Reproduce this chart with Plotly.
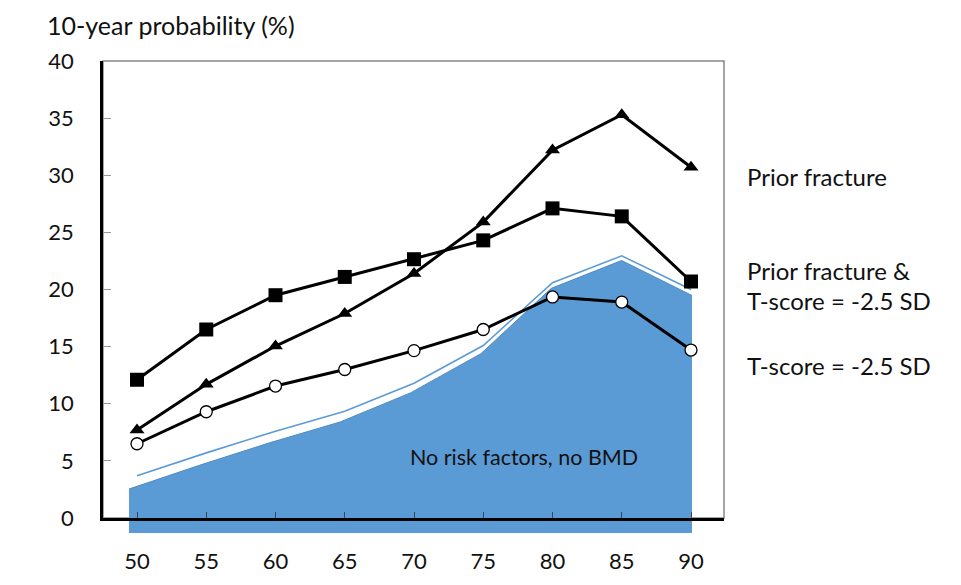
import plotly.graph_objects as go

ages = [50, 55, 60, 65, 70, 75, 80, 85, 90]
age_labels = ["50", "55", "60", "65", "70", "75", "80", "85", "90"]
prior_fracture = [7.7, 11.7, 15.05, 17.9, 21.4, 25.9, 32.2, 35.3, 30.7]
prior_fracture_tscore = [12.1, 16.5, 19.5, 21.1, 22.65, 24.3, 27.1, 26.4, 20.7]
tscore = [6.5, 9.3, 11.55, 13.0, 14.65, 16.5, 19.35, 18.9, 14.7]
no_risk = [3.7, 5.7, 7.6, 9.35, 11.8, 15.1, 20.6, 22.95, 20.0]

FONT = "Lato, 'Open Sans', sans-serif"
BLUE = "#5B9BD5"

fig = go.Figure()

# shaded area (drawn in a slightly offset "perspective" subplot)
fig.add_trace(go.Scatter(x=ages, y=no_risk, xaxis="x", yaxis="y", mode="lines",
                         fill="tozeroy", fillcolor=BLUE,
                         line=dict(color="#4E8AC2", width=1), hoverinfo="skip",
                         showlegend=False))
# thin outline of the area
fig.add_trace(go.Scatter(x=ages, y=no_risk, xaxis="x2", yaxis="y2", mode="lines",
                         line=dict(color=BLUE, width=1.6), showlegend=False))

fig.add_trace(go.Scatter(x=ages, y=tscore, xaxis="x2", yaxis="y2", mode="lines+markers",
                         line=dict(color="black", width=3),
                         marker=dict(symbol="circle", size=12, color="white",
                                     line=dict(color="black", width=1.3)),
                         showlegend=False))
fig.add_trace(go.Scatter(x=ages, y=prior_fracture, xaxis="x2", yaxis="y2", mode="lines+markers",
                         line=dict(color="black", width=3),
                         marker=dict(symbol="triangle-up", size=13, color="black"),
                         showlegend=False))
fig.add_trace(go.Scatter(x=ages, y=prior_fracture_tscore, xaxis="x2", yaxis="y2", mode="lines+markers",
                         line=dict(color="black", width=3),
                         marker=dict(symbol="square", size=14, color="black"),
                         showlegend=False))

fig.update_layout(
    width=953, height=577,
    margin=dict(l=95, r=237, t=50, b=52),
    paper_bgcolor="white", plot_bgcolor="rgba(0,0,0,0)",
    font=dict(family=FONT, size=22, color="#111"),
    xaxis=dict(domain=[26/621, 589/621], range=[50, 90], visible=False, anchor="y",
               fixedrange=True),
    yaxis=dict(domain=[0, 1], range=[0, 40], visible=False, anchor="x", fixedrange=True),
    xaxis2=dict(domain=[0, 1], range=[47.545, 92.383], anchor="y2", automargin=False,
                showline=True, linecolor="black", linewidth=2.5,
                ticks="inside", ticklen=6, tickwidth=1, tickcolor="#444",
                tickvals=ages, ticktext=age_labels, showgrid=False, zeroline=False,
                ticklabelstandoff=22, tickfont=dict(size=22)),
    yaxis2=dict(domain=[15/475, 472/475], range=[0, 40], anchor="x2", automargin=False,
                showline=True, linecolor="black", linewidth=2.5,
                ticks="inside", ticklen=8, tickwidth=1, tickcolor="#999",
                tick0=0, dtick=5, showgrid=False, zeroline=False,
                ticklabelstandoff=22, tickfont=dict(size=22)),
    shapes=[dict(type="rect", xref="x2 domain", yref="y2 domain", x0=0, x1=1, y0=0, y1=1,
                 line=dict(color="#888", width=1.5), layer="below")],
    annotations=[
        dict(text="10-year probability (%)", xref="paper", yref="paper",
             x=-0.0934, y=1.0695, xanchor="left", yanchor="middle", showarrow=False,
             font=dict(size=25)),
        dict(text="No risk factors, no BMD", xref="x2", yref="y2", x=77.95, y=5.35,
             xanchor="center", yanchor="middle", showarrow=False, font=dict(size=21.5)),
        dict(text="Prior fracture", xref="x2 domain", yref="y2", x=1.0338, y=29.85,
             xanchor="left", yanchor="middle", showarrow=False, font=dict(size=24)),
        dict(text="Prior fracture &", xref="x2 domain", yref="y2", x=1.0338, y=21.65,
             xanchor="left", yanchor="middle", showarrow=False, font=dict(size=24)),
        dict(text="T-score = -2.5 SD", xref="x2 domain", yref="y2", x=1.0338, y=19.0,
             xanchor="left", yanchor="middle", showarrow=False, font=dict(size=24)),
        dict(text="T-score = -2.5 SD", xref="x2 domain", yref="y2", x=1.0338, y=13.35,
             xanchor="left", yanchor="middle", showarrow=False, font=dict(size=24)),
    ],
)

fig.write_html("out.html")
